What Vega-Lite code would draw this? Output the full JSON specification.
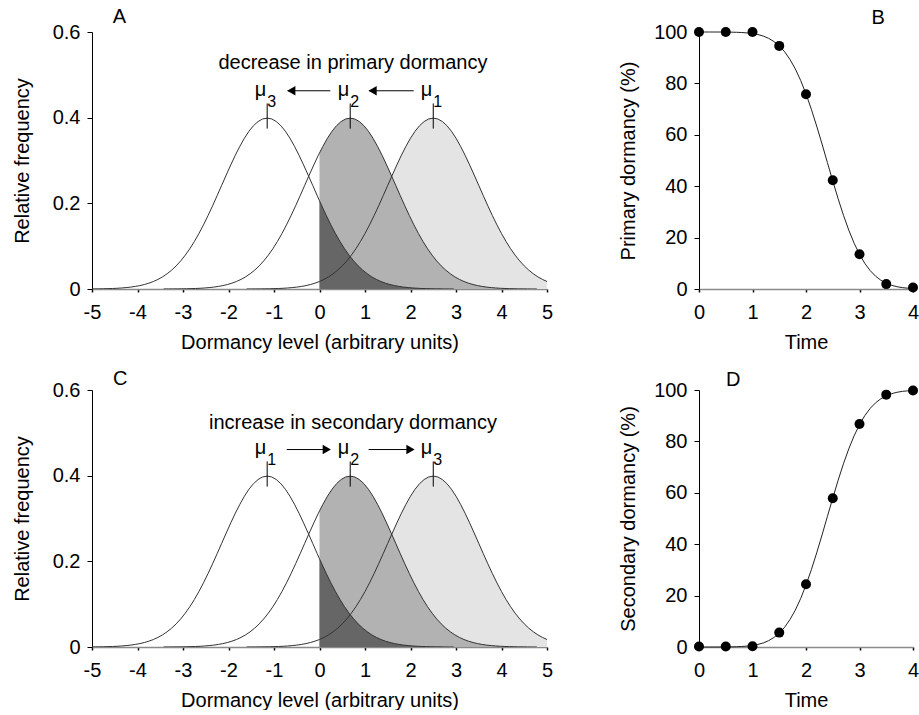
{
"$schema": "https://vega.github.io/schema/vega-lite/v6.json",
"padding": {"left": 12, "top": 7, "right": 0, "bottom": 0},
"config": {
 "font": "Liberation Sans",
 "view": {"stroke": null},
 "axis": {"grid": false, "labelFontSize": 20, "titleFontSize": 20, "titleFontWeight": "normal", "labelColor": "black", "titleColor": "black", "domainColor": "black", "tickColor": "black", "labelFont": "Liberation Sans", "titleFont": "Liberation Sans", "labelOverlap": false, "labelBound": false},
 "axisX": {"domainColor": "#8a8a8a", "domainWidth": 1.5, "tickSize": 3, "tickWidth": 1.5, "labelPadding": 10, "titlePadding": 10, "labelFlush": false},
 "axisY": {"tickSize": 5, "labelPadding": 7}
},
"datasets": {
 "curves": [
{"c":"L","x":-5.25,"y":0.0001},{"c":"L","x":-5.15,"y":0.0001},{"c":"L","x":-5.05,"y":0.0002},{"c":"L","x":-4.95,"y":0.0003},{"c":"L","x":-4.85,"y":0.0004},{"c":"L","x":-4.75,"y":0.0006},{"c":"L","x":-4.65,"y":0.0009},{"c":"L","x":-4.55,"y":0.0012},{"c":"L","x":-4.45,"y":0.0017},{"c":"L","x":-4.35,"y":0.0024},{"c":"L","x":-4.25,"y":0.0033},{"c":"L","x":-4.15,"y":0.0044},{"c":"L","x":-4.05,"y":0.006},{"c":"L","x":-3.95,"y":0.0079},{"c":"L","x":-3.85,"y":0.0104},{"c":"L","x":-3.75,"y":0.0136},{"c":"L","x":-3.65,"y":0.0175},{"c":"L","x":-3.55,"y":0.0224},{"c":"L","x":-3.45,"y":0.0283},{"c":"L","x":-3.35,"y":0.0355},{"c":"L","x":-3.25,"y":0.044},{"c":"L","x":-3.15,"y":0.054},{"c":"L","x":-3.05,"y":0.0656},{"c":"L","x":-2.95,"y":0.079},{"c":"L","x":-2.85,"y":0.094},{"c":"L","x":-2.75,"y":0.1109},{"c":"L","x":-2.65,"y":0.1295},{"c":"L","x":-2.55,"y":0.1497},{"c":"L","x":-2.45,"y":0.1714},{"c":"L","x":-2.35,"y":0.1942},{"c":"L","x":-2.25,"y":0.2179},{"c":"L","x":-2.15,"y":0.242},{"c":"L","x":-2.05,"y":0.2661},{"c":"L","x":-1.95,"y":0.2897},{"c":"L","x":-1.85,"y":0.3123},{"c":"L","x":-1.75,"y":0.3332},{"c":"L","x":-1.65,"y":0.3521},{"c":"L","x":-1.55,"y":0.3683},{"c":"L","x":-1.45,"y":0.3814},{"c":"L","x":-1.35,"y":0.391},{"c":"L","x":-1.25,"y":0.397},{"c":"L","x":-1.15,"y":0.3989},{"c":"L","x":-1.05,"y":0.397},{"c":"L","x":-0.95,"y":0.391},{"c":"L","x":-0.85,"y":0.3814},{"c":"L","x":-0.75,"y":0.3683},{"c":"L","x":-0.65,"y":0.3521},{"c":"L","x":-0.55,"y":0.3332},{"c":"L","x":-0.45,"y":0.3123},{"c":"L","x":-0.35,"y":0.2897},{"c":"L","x":-0.25,"y":0.2661},{"c":"L","x":-0.15,"y":0.242},{"c":"L","x":-0.05,"y":0.2179},{"c":"L","x":0,"y":0.2059},{"c":"L","x":0.05,"y":0.1942},{"c":"L","x":0.15,"y":0.1714},{"c":"L","x":0.25,"y":0.1497},{"c":"L","x":0.35,"y":0.1295},{"c":"L","x":0.45,"y":0.1109},{"c":"L","x":0.55,"y":0.094},{"c":"L","x":0.65,"y":0.079},{"c":"L","x":0.75,"y":0.0656},{"c":"L","x":0.85,"y":0.054},{"c":"L","x":0.95,"y":0.044},{"c":"L","x":1.05,"y":0.0355},{"c":"L","x":1.15,"y":0.0283},{"c":"L","x":1.25,"y":0.0224},{"c":"L","x":1.35,"y":0.0175},{"c":"L","x":1.45,"y":0.0136},{"c":"L","x":1.55,"y":0.0104},{"c":"L","x":1.65,"y":0.0079},{"c":"L","x":1.75,"y":0.006},{"c":"L","x":1.85,"y":0.0044},{"c":"L","x":1.95,"y":0.0033},{"c":"L","x":2.05,"y":0.0024},{"c":"L","x":2.15,"y":0.0017},{"c":"L","x":2.25,"y":0.0012},{"c":"L","x":2.35,"y":0.0009},{"c":"L","x":2.45,"y":0.0006},{"c":"L","x":2.55,"y":0.0004},{"c":"L","x":2.65,"y":0.0003},{"c":"L","x":2.75,"y":0.0002},{"c":"L","x":2.85,"y":0.0001},{"c":"L","x":2.95,"y":0.0001},
{"c":"M","x":-3.425,"y":0.0001},{"c":"M","x":-3.325,"y":0.0001},{"c":"M","x":-3.225,"y":0.0002},{"c":"M","x":-3.125,"y":0.0003},{"c":"M","x":-3.025,"y":0.0004},{"c":"M","x":-2.925,"y":0.0006},{"c":"M","x":-2.825,"y":0.0009},{"c":"M","x":-2.725,"y":0.0012},{"c":"M","x":-2.625,"y":0.0017},{"c":"M","x":-2.525,"y":0.0024},{"c":"M","x":-2.425,"y":0.0033},{"c":"M","x":-2.325,"y":0.0044},{"c":"M","x":-2.225,"y":0.006},{"c":"M","x":-2.125,"y":0.0079},{"c":"M","x":-2.025,"y":0.0104},{"c":"M","x":-1.925,"y":0.0136},{"c":"M","x":-1.825,"y":0.0175},{"c":"M","x":-1.725,"y":0.0224},{"c":"M","x":-1.625,"y":0.0283},{"c":"M","x":-1.525,"y":0.0355},{"c":"M","x":-1.425,"y":0.044},{"c":"M","x":-1.325,"y":0.054},{"c":"M","x":-1.225,"y":0.0656},{"c":"M","x":-1.125,"y":0.079},{"c":"M","x":-1.025,"y":0.094},{"c":"M","x":-0.925,"y":0.1109},{"c":"M","x":-0.825,"y":0.1295},{"c":"M","x":-0.725,"y":0.1497},{"c":"M","x":-0.625,"y":0.1714},{"c":"M","x":-0.525,"y":0.1942},{"c":"M","x":-0.425,"y":0.2179},{"c":"M","x":-0.325,"y":0.242},{"c":"M","x":-0.225,"y":0.2661},{"c":"M","x":-0.125,"y":0.2897},{"c":"M","x":-0.025,"y":0.3123},{"c":"M","x":0,"y":0.3177},{"c":"M","x":0.075,"y":0.3332},{"c":"M","x":0.175,"y":0.3521},{"c":"M","x":0.275,"y":0.3683},{"c":"M","x":0.375,"y":0.3814},{"c":"M","x":0.475,"y":0.391},{"c":"M","x":0.575,"y":0.397},{"c":"M","x":0.675,"y":0.3989},{"c":"M","x":0.775,"y":0.397},{"c":"M","x":0.875,"y":0.391},{"c":"M","x":0.975,"y":0.3814},{"c":"M","x":1.075,"y":0.3683},{"c":"M","x":1.175,"y":0.3521},{"c":"M","x":1.275,"y":0.3332},{"c":"M","x":1.375,"y":0.3123},{"c":"M","x":1.475,"y":0.2897},{"c":"M","x":1.575,"y":0.2661},{"c":"M","x":1.675,"y":0.242},{"c":"M","x":1.775,"y":0.2179},{"c":"M","x":1.875,"y":0.1942},{"c":"M","x":1.975,"y":0.1714},{"c":"M","x":2.075,"y":0.1497},{"c":"M","x":2.175,"y":0.1295},{"c":"M","x":2.275,"y":0.1109},{"c":"M","x":2.375,"y":0.094},{"c":"M","x":2.475,"y":0.079},{"c":"M","x":2.575,"y":0.0656},{"c":"M","x":2.675,"y":0.054},{"c":"M","x":2.775,"y":0.044},{"c":"M","x":2.875,"y":0.0355},{"c":"M","x":2.975,"y":0.0283},{"c":"M","x":3.075,"y":0.0224},{"c":"M","x":3.175,"y":0.0175},{"c":"M","x":3.275,"y":0.0136},{"c":"M","x":3.375,"y":0.0104},{"c":"M","x":3.475,"y":0.0079},{"c":"M","x":3.575,"y":0.006},{"c":"M","x":3.675,"y":0.0044},{"c":"M","x":3.775,"y":0.0033},{"c":"M","x":3.875,"y":0.0024},{"c":"M","x":3.975,"y":0.0017},{"c":"M","x":4.075,"y":0.0012},{"c":"M","x":4.175,"y":0.0009},{"c":"M","x":4.275,"y":0.0006},{"c":"M","x":4.375,"y":0.0004},{"c":"M","x":4.475,"y":0.0003},{"c":"M","x":4.575,"y":0.0002},{"c":"M","x":4.675,"y":0.0001},{"c":"M","x":4.775,"y":0.0001},
{"c":"R","x":-1.6,"y":0.0001},{"c":"R","x":-1.5,"y":0.0001},{"c":"R","x":-1.4,"y":0.0002},{"c":"R","x":-1.3,"y":0.0003},{"c":"R","x":-1.2,"y":0.0004},{"c":"R","x":-1.1,"y":0.0006},{"c":"R","x":-1.0,"y":0.0009},{"c":"R","x":-0.9,"y":0.0012},{"c":"R","x":-0.8,"y":0.0017},{"c":"R","x":-0.7,"y":0.0024},{"c":"R","x":-0.6,"y":0.0033},{"c":"R","x":-0.5,"y":0.0044},{"c":"R","x":-0.4,"y":0.006},{"c":"R","x":-0.3,"y":0.0079},{"c":"R","x":-0.2,"y":0.0104},{"c":"R","x":-0.1,"y":0.0136},{"c":"R","x":0,"y":0.0175},{"c":"R","x":0.1,"y":0.0224},{"c":"R","x":0.2,"y":0.0283},{"c":"R","x":0.3,"y":0.0355},{"c":"R","x":0.4,"y":0.044},{"c":"R","x":0.5,"y":0.054},{"c":"R","x":0.6,"y":0.0656},{"c":"R","x":0.7,"y":0.079},{"c":"R","x":0.8,"y":0.094},{"c":"R","x":0.9,"y":0.1109},{"c":"R","x":1.0,"y":0.1295},{"c":"R","x":1.1,"y":0.1497},{"c":"R","x":1.2,"y":0.1714},{"c":"R","x":1.3,"y":0.1942},{"c":"R","x":1.4,"y":0.2179},{"c":"R","x":1.5,"y":0.242},{"c":"R","x":1.6,"y":0.2661},{"c":"R","x":1.7,"y":0.2897},{"c":"R","x":1.8,"y":0.3123},{"c":"R","x":1.9,"y":0.3332},{"c":"R","x":2.0,"y":0.3521},{"c":"R","x":2.1,"y":0.3683},{"c":"R","x":2.2,"y":0.3814},{"c":"R","x":2.3,"y":0.391},{"c":"R","x":2.4,"y":0.397},{"c":"R","x":2.5,"y":0.3989},{"c":"R","x":2.6,"y":0.397},{"c":"R","x":2.7,"y":0.391},{"c":"R","x":2.8,"y":0.3814},{"c":"R","x":2.9,"y":0.3683},{"c":"R","x":3.0,"y":0.3521},{"c":"R","x":3.1,"y":0.3332},{"c":"R","x":3.2,"y":0.3123},{"c":"R","x":3.3,"y":0.2897},{"c":"R","x":3.4,"y":0.2661},{"c":"R","x":3.5,"y":0.242},{"c":"R","x":3.6,"y":0.2179},{"c":"R","x":3.7,"y":0.1942},{"c":"R","x":3.8,"y":0.1714},{"c":"R","x":3.9,"y":0.1497},{"c":"R","x":4.0,"y":0.1295},{"c":"R","x":4.1,"y":0.1109},{"c":"R","x":4.2,"y":0.094},{"c":"R","x":4.3,"y":0.079},{"c":"R","x":4.4,"y":0.0656},{"c":"R","x":4.5,"y":0.054},{"c":"R","x":4.6,"y":0.044},{"c":"R","x":4.7,"y":0.0355},{"c":"R","x":4.8,"y":0.0283},{"c":"R","x":4.9,"y":0.0224},{"c":"R","x":5.0,"y":0.0175}
 ],
 "primary": [
{"t":0,"p":100},{"t":0.1,"p":100},{"t":0.2,"p":100},{"t":0.3,"p":100},{"t":0.4,"p":99.99},{"t":0.5,"p":99.97},{"t":0.6,"p":99.94},{"t":0.7,"p":99.89},{"t":0.8,"p":99.8},{"t":0.9,"p":99.64},{"t":1.0,"p":99.4},{"t":1.1,"p":99.01},{"t":1.2,"p":98.42},{"t":1.3,"p":97.55},{"t":1.4,"p":96.3},{"t":1.5,"p":94.6},{"t":1.6,"p":92.31},{"t":1.7,"p":89.34},{"t":1.8,"p":85.65},{"t":1.9,"p":81.16},{"t":2.0,"p":75.9},{"t":2.1,"p":69.92},{"t":2.2,"p":63.38},{"t":2.3,"p":56.4},{"t":2.4,"p":49.2},{"t":2.5,"p":42.07},{"t":2.6,"p":35.16},{"t":2.7,"p":28.71},{"t":2.8,"p":22.88},{"t":2.9,"p":17.8},{"t":3.0,"p":13.48},{"t":3.1,"p":9.94},{"t":3.2,"p":7.15},{"t":3.3,"p":4.99},{"t":3.4,"p":3.39},{"t":3.5,"p":2.24},{"t":3.6,"p":1.43},{"t":3.7,"p":0.89},{"t":3.8,"p":0.54},{"t":3.9,"p":0.32},{"t":4.0,"p":0.18}
 ],
 "primaryPts": [
{"t":0,"p":100},{"t":0.5,"p":100},{"t":1,"p":100},{"t":1.5,"p":94.6},{"t":2,"p":75.8},{"t":2.5,"p":42.3},{"t":3,"p":13.5},{"t":3.5,"p":1.9},{"t":4,"p":0.6}
 ],
 "secondary": [
{"t":0,"p":0},{"t":0.1,"p":0},{"t":0.2,"p":0},{"t":0.3,"p":0},{"t":0.4,"p":0.01},{"t":0.5,"p":0.03},{"t":0.6,"p":0.06},{"t":0.7,"p":0.11},{"t":0.8,"p":0.2},{"t":0.9,"p":0.36},{"t":1.0,"p":0.6},{"t":1.1,"p":0.99},{"t":1.2,"p":1.58},{"t":1.3,"p":2.45},{"t":1.4,"p":3.7},{"t":1.5,"p":5.4},{"t":1.6,"p":7.69},{"t":1.7,"p":10.66},{"t":1.8,"p":14.35},{"t":1.9,"p":18.84},{"t":2.0,"p":24.1},{"t":2.1,"p":30.08},{"t":2.2,"p":36.62},{"t":2.3,"p":43.6},{"t":2.4,"p":50.8},{"t":2.5,"p":57.93},{"t":2.6,"p":64.84},{"t":2.7,"p":71.29},{"t":2.8,"p":77.12},{"t":2.9,"p":82.2},{"t":3.0,"p":86.52},{"t":3.1,"p":90.06},{"t":3.2,"p":92.85},{"t":3.3,"p":95.01},{"t":3.4,"p":96.61},{"t":3.5,"p":97.76},{"t":3.6,"p":98.57},{"t":3.7,"p":99.11},{"t":3.8,"p":99.46},{"t":3.9,"p":99.68},{"t":4.0,"p":99.82}
 ],
 "secondaryPts": [
{"t":0,"p":0.2},{"t":0.5,"p":0.2},{"t":1,"p":0.3},{"t":1.5,"p":5.6},{"t":2,"p":24.4},{"t":2.5,"p":57.9},{"t":3,"p":86.8},{"t":3.5,"p":98.2},{"t":4,"p":99.8}
 ]
},
"columns": 2,
"spacing": {"row": 101, "column": 152},
"bounds": "flush",
"align": "each",
"concat": [
 {
  "width": 455, "height": 257,
  "encoding": {
   "x": {"field": "x", "type": "quantitative", "scale": {"domain": [-5, 5], "nice": false, "zero": false}, "axis": {"values": [-5,-4,-3,-2,-1,0,1,2,3,4,5], "labelExpr": "'' + datum.value", "title": "Dormancy level (arbitrary units)"}},
   "y": {"field": "y", "type": "quantitative", "scale": {"domain": [0, 0.6], "nice": false}, "axis": {"values": [0,0.2,0.4,0.6], "labelExpr": "'' + datum.value", "title": "Relative frequency", "titlePadding": 20}}
  },
  "layer": [
   {"data": {"name": "curves"}, "transform": [{"filter": "datum.c == 'R' && datum.x >= 0"}], "mark": {"type": "area", "color": "#e4e4e4", "clip": true}},
   {"data": {"name": "curves"}, "transform": [{"filter": "datum.c == 'M' && datum.x >= 0"}], "mark": {"type": "area", "color": "#b2b2b2", "clip": true}},
   {"data": {"name": "curves"}, "transform": [{"filter": "datum.c == 'L' && datum.x >= 0"}], "mark": {"type": "area", "color": "#666666", "clip": true}},
   {"data": {"name": "curves"}, "mark": {"type": "line", "color": "#333333", "strokeWidth": 1, "clip": true}, "encoding": {"detail": {"field": "c"}}},
   {"data": {"values": [{"x": -1.15, "y": 0.3745, "y2": 0.4332}, {"x": 0.675, "y": 0.3745, "y2": 0.4332}, {"x": 2.5, "y": 0.3745, "y2": 0.4332}]}, "mark": {"type": "rule", "color": "black", "strokeWidth": 1}, "encoding": {"y2": {"field": "y2"}}},
   {"data": {"values": [{"x": -1.15, "y": 0.45, "t": "μ"}, {"x": 0.675, "y": 0.45, "t": "μ"}, {"x": 2.5, "y": 0.45, "t": "μ"}]}, "mark": {"type": "text", "align": "right", "baseline": "alphabetic", "fontSize": 20, "dx": -1}, "encoding": {"text": {"field": "t"}}},
   {"data": {"values": [{"x": -1.15, "y": 0.426, "t": "3"}, {"x": 0.675, "y": 0.426, "t": "2"}, {"x": 2.5, "y": 0.426, "t": "1"}]}, "mark": {"type": "text", "align": "left", "baseline": "alphabetic", "fontSize": 16, "dx": 0}, "encoding": {"text": {"field": "t"}}},
   {"data": {"values": [{"x": -0.7, "x2": 0.237, "y": 0.4628}, {"x": 1.09, "x2": 2.07, "y": 0.4628}]}, "mark": {"type": "rule", "color": "black", "strokeWidth": 1}, "encoding": {"x2": {"field": "x2"}}},
   {"data": {"values": [{"x": -0.62, "y": 0.4628}, {"x": 1.167, "y": 0.4628}]}, "mark": {"type": "point", "shape": "triangle-left", "filled": true, "color": "black", "size": 90, "opacity": 1}},
   {"data": {"values": [{"x": 0.735, "y": 0.514, "t": "decrease in primary dormancy"}]}, "mark": {"type": "text", "align": "center", "baseline": "alphabetic", "fontSize": 20}, "encoding": {"text": {"field": "t"}}},
   {"data": {"values": [{"x": -4.4, "y": 0.621, "t": "A"}]}, "mark": {"type": "text", "align": "center", "baseline": "alphabetic", "fontSize": 20}, "encoding": {"text": {"field": "t"}}}
  ]
 },
 {
  "width": 214, "height": 257,
  "encoding": {
   "x": {"field": "t", "type": "quantitative", "scale": {"domain": [0, 4], "nice": false}, "axis": {"values": [0,1,2,3,4], "title": "Time"}},
   "y": {"field": "p", "type": "quantitative", "scale": {"domain": [0, 100], "nice": false}, "axis": {"values": [0,20,40,60,80,100], "title": "Primary dormancy (%)", "titlePadding": 15}}
  },
  "layer": [
   {"data": {"name": "primary"}, "mark": {"type": "line", "color": "#222222", "strokeWidth": 1}},
   {"data": {"name": "primaryPts"}, "mark": {"type": "point", "shape": "circle", "filled": true, "color": "black", "size": 100, "opacity": 1}},
   {"data": {"values": [{"t": 3.35, "p": 103.3, "s": "B"}]}, "mark": {"type": "text", "align": "center", "baseline": "alphabetic", "fontSize": 20}, "encoding": {"text": {"field": "s"}}}
  ]
 },
 {
  "width": 455, "height": 257,
  "encoding": {
   "x": {"field": "x", "type": "quantitative", "scale": {"domain": [-5, 5], "nice": false, "zero": false}, "axis": {"values": [-5,-4,-3,-2,-1,0,1,2,3,4,5], "labelExpr": "'' + datum.value", "title": "Dormancy level (arbitrary units)"}},
   "y": {"field": "y", "type": "quantitative", "scale": {"domain": [0, 0.6], "nice": false}, "axis": {"values": [0,0.2,0.4,0.6], "labelExpr": "'' + datum.value", "title": "Relative frequency", "titlePadding": 20}}
  },
  "layer": [
   {"data": {"name": "curves"}, "transform": [{"filter": "datum.c == 'R' && datum.x >= 0"}], "mark": {"type": "area", "color": "#e4e4e4", "clip": true}},
   {"data": {"name": "curves"}, "transform": [{"filter": "datum.c == 'M' && datum.x >= 0"}], "mark": {"type": "area", "color": "#b2b2b2", "clip": true}},
   {"data": {"name": "curves"}, "transform": [{"filter": "datum.c == 'L' && datum.x >= 0"}], "mark": {"type": "area", "color": "#666666", "clip": true}},
   {"data": {"name": "curves"}, "mark": {"type": "line", "color": "#333333", "strokeWidth": 1, "clip": true}, "encoding": {"detail": {"field": "c"}}},
   {"data": {"values": [{"x": -1.15, "y": 0.3745, "y2": 0.4332}, {"x": 0.675, "y": 0.3745, "y2": 0.4332}, {"x": 2.5, "y": 0.3745, "y2": 0.4332}]}, "mark": {"type": "rule", "color": "black", "strokeWidth": 1}, "encoding": {"y2": {"field": "y2"}}},
   {"data": {"values": [{"x": -1.15, "y": 0.45, "t": "μ"}, {"x": 0.675, "y": 0.45, "t": "μ"}, {"x": 2.5, "y": 0.45, "t": "μ"}]}, "mark": {"type": "text", "align": "right", "baseline": "alphabetic", "fontSize": 20, "dx": -1}, "encoding": {"text": {"field": "t"}}},
   {"data": {"values": [{"x": -1.15, "y": 0.426, "t": "1"}, {"x": 0.675, "y": 0.426, "t": "2"}, {"x": 2.5, "y": 0.426, "t": "3"}]}, "mark": {"type": "text", "align": "left", "baseline": "alphabetic", "fontSize": 16, "dx": 0}, "encoding": {"text": {"field": "t"}}},
   {"data": {"values": [{"x": -0.72, "x2": 0.2, "y": 0.461}, {"x": 1.08, "x2": 2.05, "y": 0.461}]}, "mark": {"type": "rule", "color": "black", "strokeWidth": 1}, "encoding": {"x2": {"field": "x2"}}},
   {"data": {"values": [{"x": 0.16, "y": 0.461}, {"x": 2.0, "y": 0.461}]}, "mark": {"type": "point", "shape": "triangle-right", "filled": true, "color": "black", "size": 90, "opacity": 1}},
   {"data": {"values": [{"x": 0.735, "y": 0.51, "t": "increase in secondary dormancy"}]}, "mark": {"type": "text", "align": "center", "baseline": "alphabetic", "fontSize": 20}, "encoding": {"text": {"field": "t"}}},
   {"data": {"values": [{"x": -4.38, "y": 0.612, "t": "C"}]}, "mark": {"type": "text", "align": "center", "baseline": "alphabetic", "fontSize": 20}, "encoding": {"text": {"field": "t"}}}
  ]
 },
 {
  "width": 214, "height": 257,
  "encoding": {
   "x": {"field": "t", "type": "quantitative", "scale": {"domain": [0, 4], "nice": false}, "axis": {"values": [0,1,2,3,4], "title": "Time"}},
   "y": {"field": "p", "type": "quantitative", "scale": {"domain": [0, 100], "nice": false}, "axis": {"values": [0,20,40,60,80,100], "title": "Secondary dormancy (%)", "titlePadding": 15}}
  },
  "layer": [
   {"data": {"name": "secondary"}, "mark": {"type": "line", "color": "#222222", "strokeWidth": 1}},
   {"data": {"name": "secondaryPts"}, "mark": {"type": "point", "shape": "circle", "filled": true, "color": "black", "size": 100, "opacity": 1}},
   {"data": {"values": [{"t": 0.64, "p": 101.7, "s": "D"}]}, "mark": {"type": "text", "align": "center", "baseline": "alphabetic", "fontSize": 20}, "encoding": {"text": {"field": "s"}}}
  ]
 }
]
}
